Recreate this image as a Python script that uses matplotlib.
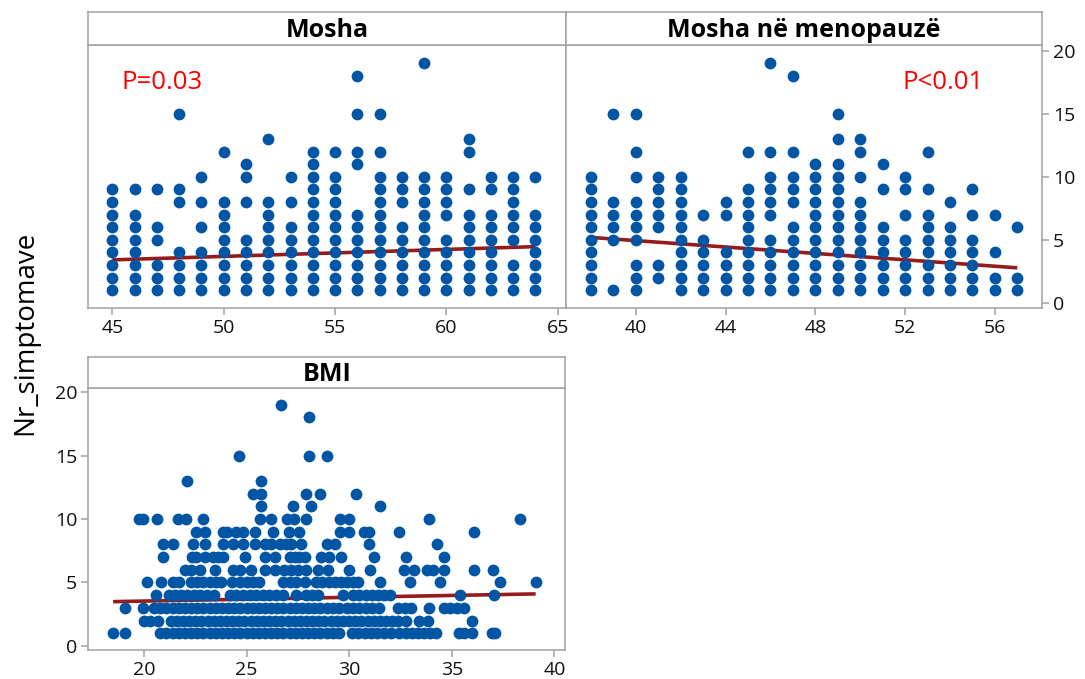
import matplotlib
matplotlib.use('Agg')
import matplotlib.pyplot as plt

plt.rcParams['font.family'] = ['Open Sans', 'DejaVu Sans']

# --- data ----------------------------------------------------------------
mosha_ages = [45, 46, 47, 48, 49, 50, 51, 52, 53, 54,
              55, 56, 57, 58, 59, 60, 61, 62, 63, 64]
mosha_nr = [
    [1, 2, 3, 4, 5, 6, 7, 8, 9],
    [1, 2, 3, 4, 5, 6, 7, 9],
    [1, 2, 3, 5, 6, 9],
    [1, 2, 3, 4, 8, 9, 15],
    [1, 2, 3, 4, 6, 8, 10],
    [1, 2, 3, 4, 5, 6, 7, 8, 12],
    [1, 2, 3, 4, 5, 8, 10, 11],
    [1, 2, 3, 4, 5, 6, 7, 8, 13],
    [1, 2, 3, 4, 5, 6, 8, 10],
    [1, 2, 3, 4, 5, 6, 7, 8, 9, 10, 11, 12],
    [1, 2, 3, 4, 5, 6, 7, 8, 9, 10, 12],
    [1, 2, 3, 4, 5, 6, 7, 11, 12, 15, 18],
    [1, 2, 3, 4, 5, 6, 7, 8, 9, 10, 12, 15],
    [1, 2, 3, 4, 5, 6, 8, 9, 10],
    [1, 2, 3, 4, 5, 6, 7, 8, 9, 10, 19],
    [1, 2, 3, 4, 5, 7, 8, 9, 10],
    [1, 2, 3, 4, 5, 6, 7, 9, 12, 13],
    [1, 2, 3, 4, 5, 6, 7, 9, 10],
    [1, 2, 3, 5, 6, 7, 8, 9, 10],
    [1, 2, 3, 4, 5, 6, 7, 10],
]

meno_ages = [38, 39, 40, 41, 42, 43, 44, 45, 46, 47,
             48, 49, 50, 51, 52, 53, 54, 55, 56, 57]
meno_nr = [
    [1, 2, 3, 4, 5, 6, 7, 8, 9, 10],
    [1, 5, 6, 7, 8, 15],
    [1, 2, 3, 5, 6, 7, 8, 10, 12, 15],
    [2, 3, 6, 7, 8, 9, 10],
    [1, 2, 3, 4, 5, 6, 7, 8, 9, 10],
    [1, 2, 3, 4, 5, 7],
    [1, 2, 3, 4, 7, 8],
    [1, 2, 3, 4, 5, 6, 7, 8, 9, 12],
    [1, 2, 3, 4, 5, 7, 8, 9, 10, 12, 19],
    [1, 2, 3, 4, 5, 6, 8, 9, 10, 12, 18],
    [1, 2, 3, 4, 5, 6, 7, 8, 9, 10, 11],
    [1, 2, 3, 4, 5, 6, 7, 8, 9, 10, 11, 13, 15],
    [1, 2, 3, 4, 5, 6, 7, 8, 10, 12, 13],
    [1, 2, 3, 4, 5, 6, 9, 11],
    [1, 2, 3, 4, 5, 7, 9, 10],
    [1, 2, 3, 4, 5, 6, 7, 9, 12],
    [1, 2, 3, 4, 5, 6, 8],
    [1, 2, 3, 4, 5, 7, 9],
    [1, 2, 4, 7],
    [1, 2, 6],
]

bmi_nr_levels = [1, 2, 3, 4, 5, 6, 7, 8, 9, 10, 11, 12, 13, 15, 18, 19]
bmi_values = [
    [18.5, 19.07, 20.8, 21.1, 21.4, 21.7, 22.0, 22.3, 22.6, 22.9, 23.2, 23.5,
     23.8, 24.1, 24.4, 24.7, 25.0, 25.3, 25.6, 25.9, 26.2, 26.5, 26.8, 27.1,
     27.4, 27.7, 28.0, 28.3, 28.6, 28.9, 29.2, 29.5, 30.15, 30.45, 30.75,
     31.05, 31.35, 31.7, 32.05, 32.45, 32.75, 33.05, 33.35, 33.65, 33.95,
     34.25, 35.37, 35.6, 36.01, 36.95, 37.12],
    [20.0, 20.3, 20.7, 21.3, 21.6, 21.9, 22.2, 22.5, 22.8, 23.1, 23.4, 23.7,
     24.0, 24.3, 24.6, 24.9, 25.2, 25.5, 25.8, 26.1, 26.4, 26.7, 27.0, 27.3,
     27.6, 27.9, 28.2, 28.5, 28.8, 29.1, 29.4, 29.7, 30.0, 30.3, 30.6, 30.9,
     31.2, 31.5, 31.8, 32.1, 32.4, 32.75, 33.42, 33.85, 36.01],
    [19.07, 19.96, 20.5, 20.8, 21.1, 21.4, 21.7, 22.0, 22.3, 22.6, 22.9,
     23.2, 23.5, 23.8, 24.1, 24.4, 24.7, 25.0, 25.3, 25.6, 25.9, 26.2, 26.5,
     26.8, 27.1, 27.4, 27.7, 28.0, 28.3, 28.6, 28.9, 29.2, 29.5, 29.9, 30.2,
     30.5, 30.8, 31.1, 31.45, 32.4, 32.7, 33.0, 33.9, 34.6, 34.9, 35.25, 35.6],
    [20.61, 21.2, 21.5, 21.8, 22.1, 22.45, 22.75, 23.05, 23.4, 24.18, 24.5,
     24.83, 25.15, 25.48, 25.8, 26.12, 26.45, 26.77, 27.42, 27.91, 28.2, 28.5,
     29.69, 30.2, 30.5, 30.8, 31.1, 31.4, 31.7, 32.0, 35.4, 37.07],
    [20.16, 20.82, 21.42, 21.72, 22.3, 22.6, 22.9, 23.2, 23.5, 23.75, 24.3,
     24.67, 25.0, 25.3, 25.6, 26.77, 27.1, 27.42, 27.83, 28.4, 28.7, 29.0,
     29.3, 29.6, 29.9, 30.2, 30.42, 31.51, 32.98, 34.43, 37.36, 39.09],
    [21.99, 22.3, 22.72, 23.45, 24.34, 24.67, 25.23, 25.88, 26.37, 26.85,
     27.18, 27.5, 27.91, 28.5, 28.96, 29.98, 31.04, 32.69, 33.18, 33.8,
     34.07, 34.64, 36.1, 36.99],
    [20.94, 22.32, 22.56, 22.96, 23.37, 23.61, 23.85, 24.91, 25.88, 26.37,
     27.1, 27.34, 27.58, 27.83, 28.64, 29.01, 29.58, 31.23, 32.77, 34.64],
    [20.94, 21.42, 22.4, 22.96, 23.85, 24.34, 24.83, 25.4, 25.88, 26.21,
     26.61, 26.94, 27.18, 27.66, 28.92, 29.29, 30.96, 34.26],
    [22.56, 22.96, 23.85, 24.05, 24.5, 24.83, 25.4, 26.29, 27.06, 27.55,
     29.56, 29.98, 30.74, 30.99, 32.41, 36.1],
    [19.77, 19.96, 20.64, 21.67, 22.07, 22.88, 25.64, 26.17, 26.97, 27.29,
     27.88, 29.56, 29.98, 33.9, 38.33],
    [25.69, 27.26, 28.15, 31.51],
    [25.31, 25.69, 27.88, 28.6, 30.34],
    [22.1, 25.69],
    [24.63, 28.04, 28.91],
    [28.04],
    [26.66],
]

# fitted lines (intercept, slope) as shown in the chart
fit_mosha = [0.913, 0.0553]
fit_meno = [10.01, -0.127]
fit_bmi = [2.942, 0.0296]

p_mosha = 'P=0.03'
p_meno = 'P<0.01'

# --- styling ---------------------------------------------------------------
W, H = 1085, 679
dot_color = '#0055A4'
line_color = '#961B1B'
frame_color = '#A0A0A0'
dot_size = 72


def box(l, t, r, b):
    return [l / W, 1 - b / H, (r - l) / W, (b - t) / H]


def style_axes(ax):
    for s in ax.spines.values():
        s.set_color(frame_color)
        s.set_linewidth(1.1)
    ax.tick_params(direction='out', length=5, width=1.1, color=frame_color,
                   labelsize=14, labelcolor='#111111', pad=3)


def add_strip(rect, title):
    s = fig.add_axes(rect)
    s.set_xticks([])
    s.set_yticks([])
    for sp in s.spines.values():
        sp.set_color(frame_color)
        sp.set_linewidth(1.1)
    s.text(0.5, 0.45, title, ha='center', va='center', fontsize=18,
           fontweight='bold', transform=s.transAxes)


def draw_panel(ax, xs, ys_list, fit):
    px, py = [], []
    for x, ys in zip(xs, ys_list):
        for y in ys:
            px.append(x)
            py.append(y)
    lo, hi = min(px), max(px)
    ax.plot([lo, hi], [fit[0] + fit[1] * lo, fit[0] + fit[1] * hi],
            color=line_color, lw=2.6, zorder=2, solid_capstyle='butt')
    ax.scatter(px, py, s=dot_size, color=dot_color, linewidths=0, zorder=3)


fig = plt.figure(figsize=(W / 100, H / 100), dpi=100)

# Mosha
ax1 = fig.add_axes(box(88.3, 45, 566, 308.3))
draw_panel(ax1, mosha_ages, mosha_nr, fit_mosha)
ax1.set_xlim(43.92, 65.37)
ax1.set_ylim(-0.44, 20.45)
ax1.set_xticks([45, 50, 55, 60, 65])
ax1.set_yticks([])
style_axes(ax1)
ax1.text(45.39, 17.5, p_mosha, color='red', fontsize=18.5, va='center')
add_strip(box(88.3, 12, 566, 45), 'Mosha')

# Mosha ne menopauze
ax2 = fig.add_axes(box(566, 45, 1042, 308.3))
draw_panel(ax2, meno_ages, meno_nr, fit_meno)
ax2.set_xlim(36.89, 58.1)
ax2.set_ylim(-0.44, 20.45)
ax2.set_xticks([40, 44, 48, 52, 56])
ax2.set_yticks([0, 5, 10, 15, 20])
ax2.yaxis.tick_right()
style_axes(ax2)
ax2.text(51.89, 17.5, p_meno, color='red', fontsize=18.5, va='center')
add_strip(box(566, 12, 1042, 45), 'Mosha në menopauzë')

# BMI
ax3 = fig.add_axes(box(88.3, 388.3, 565, 650))
bmi_x, bmi_y = [], []
for lvl, vals in zip(bmi_nr_levels, bmi_values):
    for v in vals:
        bmi_x.append(v)
        bmi_y.append(lvl)
lo, hi = min(bmi_x), max(bmi_x)
ax3.plot([lo, hi], [fit_bmi[0] + fit_bmi[1] * lo, fit_bmi[0] + fit_bmi[1] * hi],
         color=line_color, lw=2.6, zorder=2, solid_capstyle='butt')
ax3.scatter(bmi_x, bmi_y, s=dot_size, color=dot_color, linewidths=0, zorder=3)
ax3.set_xlim(17.29, 40.52)
ax3.set_ylim(-0.32, 20.3)
ax3.set_xticks([20, 25, 30, 35, 40])
ax3.set_yticks([0, 5, 10, 15, 20])
style_axes(ax3)
add_strip(box(88.3, 356.7, 565, 388.3), 'BMI')

fig.text(25 / W, 1 - 435 / H, 'Nr_simptomave', rotation=90, fontsize=20,
         ha='center', va='bottom')

fig.savefig('out.png', dpi=100)
